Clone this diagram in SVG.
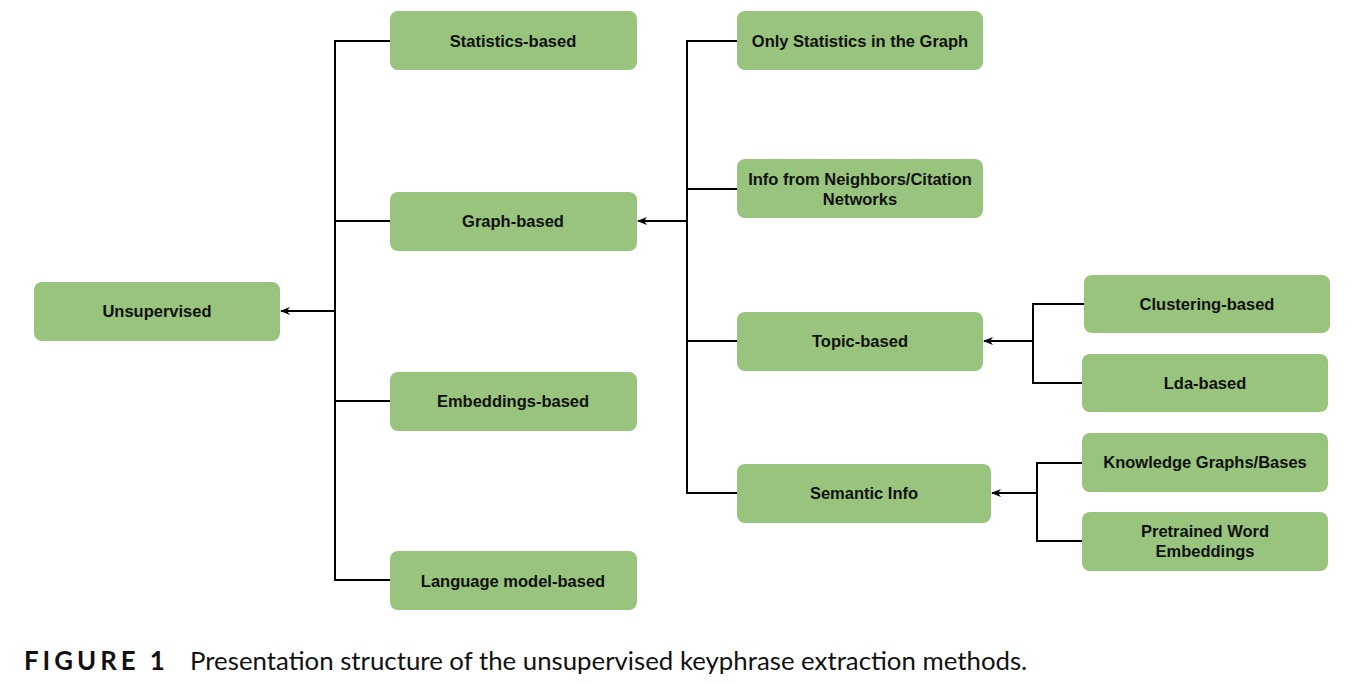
<svg xmlns="http://www.w3.org/2000/svg" width="1368" height="684" viewBox="0 0 1368 684">
<style>
.n rect{fill:#98c47d;}
.n text{font-family:"Liberation Sans",Arial,sans-serif;font-weight:bold;font-size:16.5px;fill:#111;text-anchor:middle;}
.c path{fill:none;stroke:#000;stroke-width:2;}
.cap{font-family:Lato,"Liberation Sans",sans-serif;font-size:25.8px;fill:#111;}
</style>
<defs>
<marker id="ah" viewBox="0 0 10 10" refX="9" refY="5" markerWidth="10" markerHeight="10" markerUnits="userSpaceOnUse" orient="auto">
<path d="M0,1 L10,5 L0,9 L3,5 Z" fill="#000"/>
</marker>
</defs>
<rect width="1368" height="684" fill="#fff"/>
<g class="c" id="connectors">
<path d="M390,41 H335 V580 H390"/>
<path d="M335,221 H390"/>
<path d="M335,401 H390"/>
<path d="M335,311 H281" marker-end="url(#ah)"/>
<path d="M737,41 H687 V493 H737"/>
<path d="M687,189 H737"/>
<path d="M687,341 H737"/>
<path d="M687,221 H638" marker-end="url(#ah)"/>
<path d="M1084,304 H1033 V383 H1082"/>
<path d="M1033,341 H984" marker-end="url(#ah)"/>
<path d="M1082,463 H1037 V541 H1082"/>
<path d="M1037,493 H992" marker-end="url(#ah)"/>
</g>
<g class="n" id="unsupervised"><rect x="34" y="282" width="246" height="59" rx="8"/><text x="157" y="317">Unsupervised</text></g>
<g class="n" id="statistics"><rect x="390" y="11" width="247" height="59" rx="8"/><text x="513" y="47">Statistics-based</text></g>
<g class="n" id="graph"><rect x="390" y="192" width="247" height="59" rx="8"/><text x="513" y="227">Graph-based</text></g>
<g class="n" id="embeddings"><rect x="390" y="372" width="247" height="59" rx="8"/><text x="513" y="407">Embeddings-based</text></g>
<g class="n" id="language"><rect x="390" y="551" width="247" height="59" rx="8"/><text x="513" y="587">Language model-based</text></g>
<g class="n" id="onlystats"><rect x="737" y="11" width="246" height="59" rx="8"/><text x="860" y="47">Only Statistics in the Graph</text></g>
<g class="n" id="neighbors"><rect x="737" y="159" width="246" height="59" rx="8"/><text x="860" y="185">Info from Neighbors/Citation</text><text x="860" y="205">Networks</text></g>
<g class="n" id="topic"><rect x="737" y="312" width="246" height="59" rx="8"/><text x="860" y="347">Topic-based</text></g>
<g class="n" id="semantic"><rect x="737" y="464" width="254" height="59" rx="8"/><text x="864" y="499">Semantic Info</text></g>
<g class="n" id="clustering"><rect x="1084" y="275" width="246" height="58" rx="8"/><text x="1207" y="310">Clustering-based</text></g>
<g class="n" id="lda"><rect x="1082" y="354" width="246" height="58" rx="8"/><text x="1205" y="389">Lda-based</text></g>
<g class="n" id="knowledge"><rect x="1082" y="433" width="246" height="59" rx="8"/><text x="1205" y="468">Knowledge Graphs/Bases</text></g>
<g class="n" id="pretrained"><rect x="1082" y="512" width="246" height="59" rx="8"/><text x="1205" y="537">Pretrained Word</text><text x="1205" y="557">Embeddings</text></g>
<text class="cap" x="24" y="670" font-weight="bold" letter-spacing="4">FIGURE 1</text>
<text class="cap" x="190" y="670">Presentation structure of the unsupervised keyphrase extraction methods.</text>
</svg>
